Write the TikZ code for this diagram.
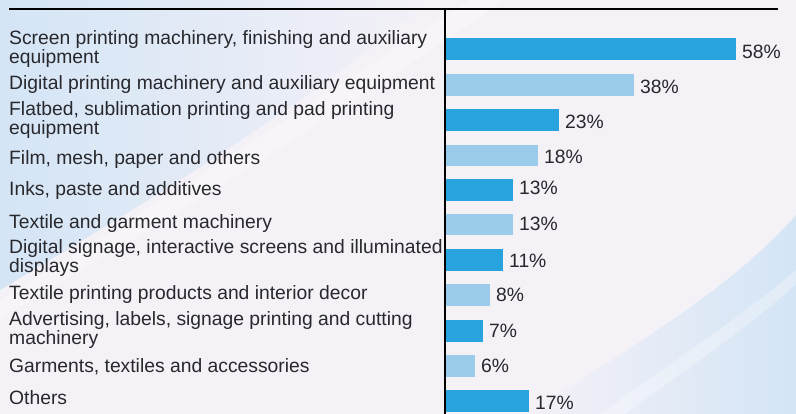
\documentclass[tikz,border=0pt]{standalone}
\usepackage{fontspec}
\setmainfont{Liberation Sans}

\definecolor{bardark}{RGB}{41,163,221}
\definecolor{barlight}{RGB}{154,203,235}
\definecolor{bgbase}{RGB}{244,241,247}
\definecolor{bgblue}{RGB}{212,229,246}
\definecolor{txtgrey}{RGB}{40,40,45}

\begin{document}
\begin{tikzpicture}[x=1pt,y=-1pt,
  catlabel/.style={anchor=base west, inner sep=0pt, align=left, text=txtgrey,
    font=\fontsize{19.3}{17.5}\selectfont},
  pctlabel/.style={anchor=base west, inner sep=0pt, text=txtgrey,
    font=\fontsize{19.3}{17.5}\selectfont},
  darkbar/.style={fill=bardark},
  lightbar/.style={fill=barlight},
  axisline/.style={draw=black, line width=2pt}]
  % background
  \useasboundingbox (0,0) rectangle (796,414);
  \fill[bgbase] (0,0) rectangle (796,414);
  \shade[left color=bgblue, right color=bgbase] (0,0) -- (430,0)
    .. controls (300,110) and (150,200) .. (0,290) -- cycle;
  \fill[white, opacity=0.3] (0,300) .. controls (150,210) and (300,110) .. (470,0)
    -- (505,0) .. controls (330,120) and (170,220) .. (0,318) -- cycle;
  \shade[left color=bgbase, right color=bgblue] (530,414)
    .. controls (640,340) and (730,290) .. (796,215) -- (796,414) -- cycle;
  \fill[white, opacity=0.3] (600,414) .. controls (690,350) and (750,310) .. (796,270)
    -- (796,284) .. controls (755,322) and (700,360) .. (625,414) -- cycle;
  % axes
  \draw[axisline] (9,9) -- (778,9);
  \draw[axisline] (445,9) -- (445,414);
  % bars
  \fill[darkbar] (446,38) rectangle (736,60);
  \fill[lightbar] (446,74) rectangle (634,96);
  \fill[darkbar] (446,109) rectangle (559,131);
  \fill[lightbar] (446,145) rectangle (538,166);
  \fill[darkbar] (446,179) rectangle (513,201);
  \fill[lightbar] (446,214) rectangle (513,235);
  \fill[darkbar] (446,249) rectangle (503,271);
  \fill[lightbar] (446,284) rectangle (490,306);
  \fill[darkbar] (446,320) rectangle (483,342);
  \fill[lightbar] (446,355) rectangle (475,377);
  \fill[darkbar] (446,390) rectangle (529,412);
  % category labels (two-line labels sit on their last baseline)
  \node[catlabel] (screen) at (9,63.3) {Screen printing machinery, finishing and auxiliary\\equipment};
  \node[catlabel] (digital) at (9,89.3) {Digital printing machinery and auxiliary equipment};
  \node[catlabel] (flatbed) at (9,134.3) {Flatbed, sublimation printing and pad printing\\equipment};
  \node[catlabel] (film) at (9,164.3) {Film, mesh, paper and others};
  \node[catlabel] (inks) at (9,195.7) {Inks, paste and additives};
  \node[catlabel] (textile) at (9,228.3) {Textile and garment machinery};
  \node[catlabel] (signage) at (9,272.7) {Digital signage, interactive screens and illuminated\\displays};
  \node[catlabel] (decor) at (9,300) {Textile printing products and interior decor};
  \node[catlabel] (advert) at (9,344.3) {Advertising, labels, signage printing and cutting\\machinery};
  \node[catlabel] (garments) at (9,372.3) {Garments, textiles and accessories};
  \node[catlabel] (others) at (9,404) {Others};
  % value labels
  \node[pctlabel] (pscreen) at (742,58.3) {58\%};
  \node[pctlabel] (pdigital) at (640,93.3) {38\%};
  \node[pctlabel] (pflatbed) at (565,128.3) {23\%};
  \node[pctlabel] (pfilm) at (544,163.3) {18\%};
  \node[pctlabel] (pinks) at (519,195) {13\%};
  \node[pctlabel] (ptextile) at (519,230.7) {13\%};
  \node[pctlabel] (psignage) at (509,267.3) {11\%};
  \node[pctlabel] (pdecor) at (496,301.7) {8\%};
  \node[pctlabel] (padvert) at (489,337.3) {7\%};
  \node[pctlabel] (pgarments) at (481,372.3) {6\%};
  \node[pctlabel] (pothers) at (535,409.3) {17\%};
\end{tikzpicture}
\end{document}
